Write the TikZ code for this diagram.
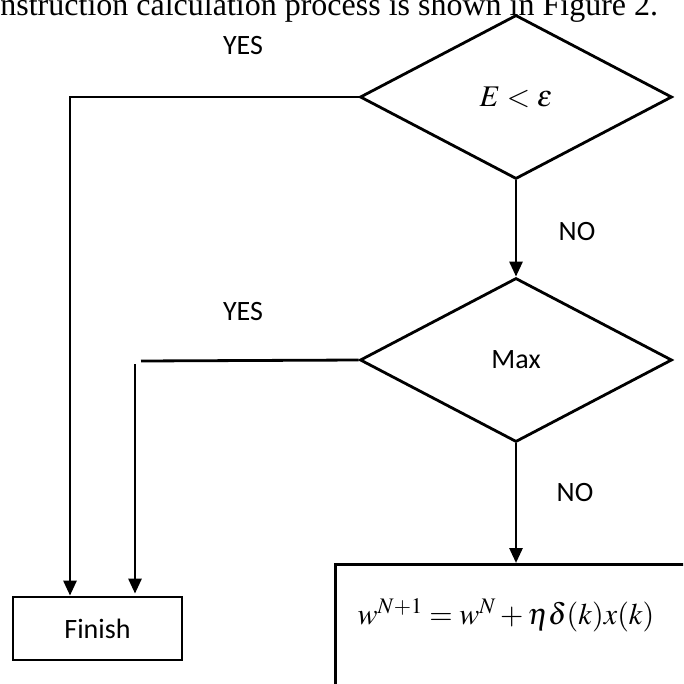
\documentclass[tikz,border=0pt]{standalone}
\usepackage{mathptmx}
\usepackage{fontspec}
\setmainfont{Liberation Serif}
\newfontfamily\carl{Carlito}
\usetikzlibrary{shapes.geometric,arrows.meta}
\begin{document}
\begin{tikzpicture}[x=1pt,y=-1pt,
  line width=2.8pt,
  dec/.style={diamond,draw,minimum width=312pt,minimum height=164pt,inner sep=0pt,font=\fontsize{30}{32}\selectfont},
  lbl/.style={font=\carl\fontsize{28}{30}\selectfont},
  arr/.style={-{Triangle[width=13pt,length=15pt]}}]
\useasboundingbox (0,0) rectangle (683,684);
\clip (0,0) rectangle (683,684);
\node[anchor=base west,inner sep=0pt,font=\fontsize{32}{34}\selectfont] (cap) at (-1,16) {nstruction calculation process is shown in Figure 2.};
\node[dec] (d1) at (516,97) {$E<\varepsilon$};
\node[dec,lbl] (d2) at (516,360) {Max};
\node[draw,minimum width=169pt,minimum height=63pt,inner sep=0pt,lbl] (fin) at (97.5,628.5) {Finish};
\node[draw,anchor=north west,minimum width=420pt,minimum height=200pt] (upd) at (334,563) {};
\node[font=\fontsize{30}{32}\selectfont] (fml) at (506,615) {$w^{N+1}=w^N+\eta\delta(k)x(k)$};
\node[lbl] (y1) at (243,46) {YES};
\node[lbl] (y2) at (243,312) {YES};
\node[lbl] (n1) at (577,232) {NO};
\node[lbl] (n2) at (575,493) {NO};
\coordinate (k1) at (70,97);
\coordinate (k2) at (141,361);
\coordinate (k3) at (135,364);
\draw[arr] (d1.west) -| (k1 |- fin.north);
\draw (d2.west) -- (k2);
\draw[arr] (k3) -- ([yshift=2pt]k3 |- fin.north);
\draw[arr] (d1.south) -- (d2.north);
\draw[arr] (d2.south) -- (d2.south |- upd.north);
\end{tikzpicture}
\end{document}
